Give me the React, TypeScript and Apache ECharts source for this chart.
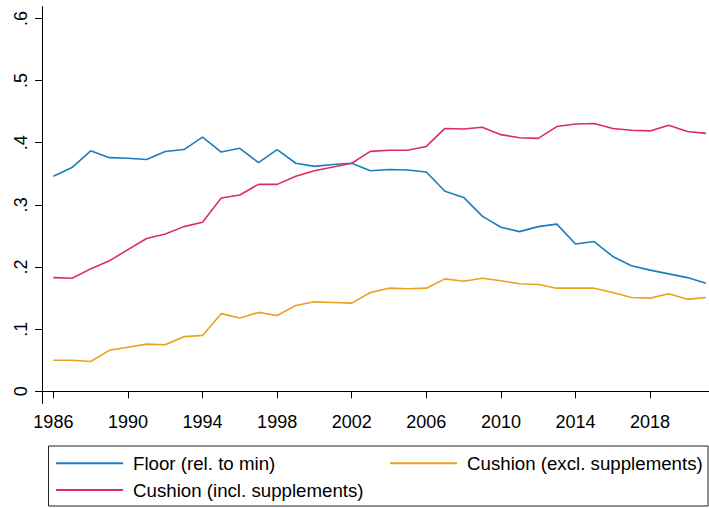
import React, { useEffect, useRef } from "react";
import * as echarts from "echarts";

const years = [
  1986, 1987, 1988, 1989, 1990, 1991, 1992, 1993, 1994, 1995, 1996, 1997,
  1998, 1999, 2000, 2001, 2002, 2003, 2004, 2005, 2006, 2007, 2008, 2009,
  2010, 2011, 2012, 2013, 2014, 2015, 2016, 2017, 2018, 2019, 2020, 2021,
];

const floorRelMin = [
  0.346, 0.36, 0.387, 0.376, 0.375, 0.373, 0.386, 0.389, 0.409, 0.385, 0.391,
  0.368, 0.389, 0.367, 0.362, 0.365, 0.367, 0.355, 0.357, 0.356, 0.353, 0.322,
  0.312, 0.282, 0.264, 0.257, 0.265, 0.269, 0.237, 0.241, 0.217, 0.202, 0.195,
  0.189, 0.183, 0.174,
];

const cushionIncl = [
  0.183, 0.182, 0.197, 0.21, 0.228, 0.246, 0.253, 0.265, 0.272, 0.311, 0.316,
  0.333, 0.333, 0.346, 0.355, 0.361, 0.367, 0.386, 0.388, 0.388, 0.394, 0.423,
  0.422, 0.425, 0.413, 0.408, 0.407, 0.426, 0.43, 0.431, 0.423, 0.42, 0.419,
  0.428, 0.418, 0.415,
];

const cushionExcl = [
  0.05, 0.05, 0.048, 0.066, 0.071, 0.076, 0.075, 0.088, 0.09, 0.125, 0.118,
  0.127, 0.122, 0.138, 0.144, 0.143, 0.142, 0.159, 0.166, 0.165, 0.166, 0.181,
  0.177, 0.182, 0.178, 0.173, 0.172, 0.166, 0.166, 0.166, 0.159, 0.151, 0.15,
  0.157, 0.148, 0.151,
];

const xTicks = [1986, 1990, 1994, 1998, 2002, 2006, 2010, 2014, 2018];
const yTicks = [0, 0.1, 0.2, 0.3, 0.4, 0.5, 0.6];

const seriesNames = [
  "Floor (rel. to min)",
  "Cushion (incl. supplements)",
  "Cushion (excl. supplements)",
];
const colors = ["#1a7dbf", "#dd2a68", "#e9a21c"];

const FONT = "'Liberation Sans', Arial, Helvetica, sans-serif";

export default function App() {
  const ref = useRef<HTMLDivElement>(null);

  useEffect(() => {
    if (!ref.current) return;
    const chart = echarts.init(ref.current, undefined, { renderer: "svg" });
    const seriesData = [floorRelMin, cushionIncl, cushionExcl];

    const legendCommon = {
      orient: "vertical" as const,
      padding: 0,
      itemWidth: 67,
      itemHeight: 2,
      itemGap: 6.7,
      icon: "rect",
      textStyle: {
        fontFamily: FONT,
        fontSize: 18.7,
        color: "#000",
        lineHeight: 20,
        padding: [0, 0, 0, 5],
      },
      selectedMode: false,
    };

    chart.setOption({
      animation: false,
      backgroundColor: "#fff",
      grid: {
        left: 42,
        right: 0,
        top: 6.6,
        bottom: 104.6,
        containLabel: false,
        outerBoundsMode: "none",
      },
      xAxis: {
        type: "value",
        min: 1985.39,
        max: 2021.16,
        axisLine: { show: true, lineStyle: { color: "#000", width: 1 } },
        axisTick: {
          show: true,
          length: 7,
          customValues: xTicks,
          lineStyle: { color: "#000", width: 1 },
        },
        axisLabel: {
          customValues: xTicks,
          fontFamily: FONT,
          fontSize: 18,
          color: "#000",
          margin: 10,
          formatter: (v: number) => String(v),
        },
        splitLine: { show: false },
      },
      yAxis: {
        type: "value",
        min: -0.0194,
        max: 0.619,
        axisLine: { show: true, lineStyle: { color: "#000", width: 1 } },
        axisTick: {
          show: true,
          length: 7,
          customValues: yTicks,
          lineStyle: { color: "#000", width: 1 },
        },
        axisLabel: {
          customValues: yTicks,
          rotate: 90,
          fontFamily: FONT,
          fontSize: 18,
          color: "#000",
          margin: 12,
          formatter: (v: number) =>
            Math.abs(v) < 1e-9 ? "0" : "." + Math.round(v * 10),
        },
        splitLine: { show: false },
      },
      legend: [
        {
          ...legendCommon,
          left: 56,
          top: 453.3,
          data: [seriesNames[0], seriesNames[1]],
        },
        {
          ...legendCommon,
          left: 390,
          top: 453.3,
          data: [seriesNames[2]],
        },
      ],
      graphic: [
        {
          type: "rect",
          shape: { x: 48.5, y: 446, width: 659.5, height: 60 },
          style: { fill: "none", stroke: "#222", lineWidth: 1 },
          silent: true,
        },
      ],
      series: seriesNames.map((name, i) => ({
        name,
        type: "line",
        showSymbol: false,
        symbol: "none",
        data: years.map((y, j) => [y, seriesData[i][j]]),
        lineStyle: { color: colors[i], width: 1.6 },
        itemStyle: { color: colors[i] },
        emphasis: { disabled: true },
      })),
    });

    return () => {
      chart.dispose();
    };
  }, []);

  return (
    <div
      ref={ref}
      style={{
        position: "fixed",
        left: 0,
        top: 0,
        width: 709,
        height: 508,
        background: "#fff",
      }}
    />
  );
}
